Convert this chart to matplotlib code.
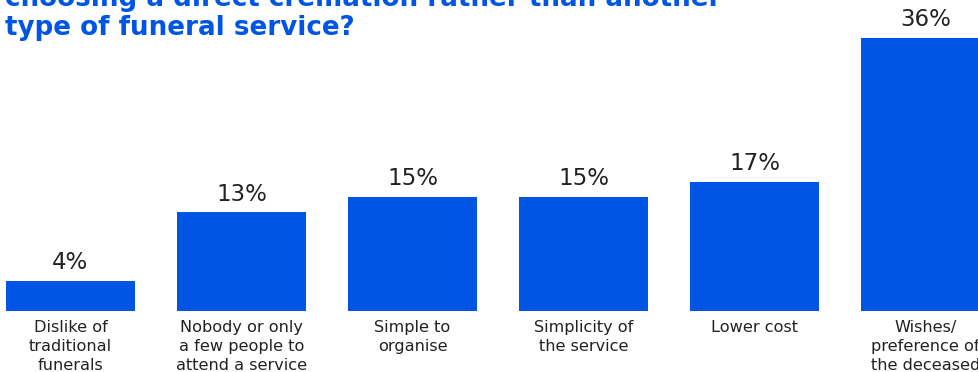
import matplotlib
matplotlib.use("Agg")
import matplotlib.pyplot as plt

# survey answers, share of respondents (%)
categories = [
    "Dislike of\ntraditional\nfunerals",
    "Nobody or only\na few people to\nattend a service",
    "Simple to\norganise",
    "Simplicity of\nthe service",
    "Lower cost",
    "Wishes/\npreference of\nthe deceased",
]
values = [4, 13, 15, 15, 17, 36]
title = "choosing a direct cremation rather than another\ntype of funeral service?"

BLUE = "#0055e5"
TEXT = "#222222"

W, H, DPI = 979, 372, 100
fig = plt.figure(figsize=(W / DPI, H / DPI), dpi=DPI)

# axes fill the width; the baseline sits 61 px above the bottom edge
ax = fig.add_axes([0, 61 / H, 1, 1 - 61 / H])
x = list(range(len(values)))
bars = ax.bar(x, values, width=129 / 171, color=BLUE)
ax.set_xlim(-70.5 / 171, (W - 70.5) / 171)
ax.set_ylim(0, 311 / 7.58)
ax.axis("off")

for b, v in zip(bars, values):
    ax.annotate(f"{v}%", (b.get_x() + b.get_width() / 2, v),
                xytext=(0, 5), textcoords="offset points",
                ha="center", va="bottom", fontsize=16.5, color=TEXT)

for xi, lab in zip(x, categories):
    ax.annotate(lab, (xi, 0), xytext=(0, -6.5), textcoords="offset points",
                ha="center", va="top", fontsize=11.6, color=TEXT,
                linespacing=1.32, annotation_clip=False)

fig.text(5 / W, 1 - 35 / H, title, ha="left", va="baseline",
         fontsize=18.8, fontweight="bold", color=BLUE, linespacing=1.15)

fig.savefig("out.png", dpi=DPI)
